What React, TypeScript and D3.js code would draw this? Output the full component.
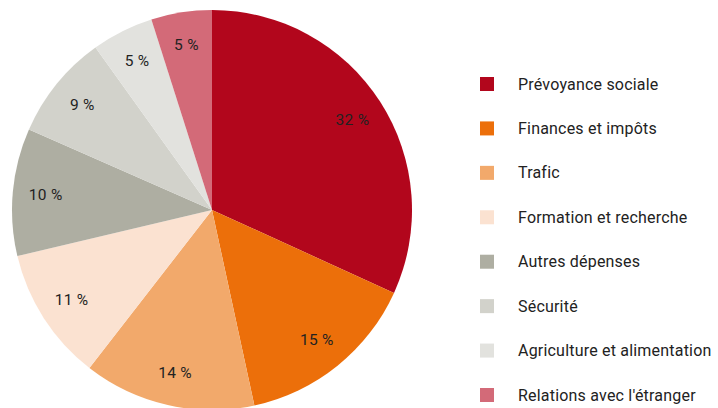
import React, { useEffect, useRef } from "react";
import * as d3 from "d3";

// Spending shares, clockwise from 12 o'clock
const categories = [
  "Prévoyance sociale",
  "Finances et impôts",
  "Trafic",
  "Formation et recherche",
  "Autres dépenses",
  "Sécurité",
  "Agriculture et alimentation",
  "Relations avec l'étranger",
];
const shares = [31.8, 14.8, 13.9, 10.8, 10.3, 8.5, 5.0, 4.9];
const shareLabels = ["32 %", "15 %", "14 %", "11 %", "10 %", "9 %", "5 %", "5 %"];
const colors = [
  "#b2061c",
  "#ec6f0a",
  "#f2a96b",
  "#fbe2d1",
  "#aeaea2",
  "#d2d2cb",
  "#e2e2de",
  "#d36a78",
];

const W = 718;
const H = 408;

export default function App() {
  const ref = useRef<SVGSVGElement>(null);

  useEffect(() => {
    const svg = d3.select(ref.current);
    svg.selectAll("*").remove();

    const cx = 212;
    const cy = 210;
    const r = 200;

    const pie = d3
      .pie<number>()
      .sort(null)
      .value((d) => d);
    const arcs = pie(shares);
    const arc = d3.arc<d3.PieArcDatum<number>>().innerRadius(0).outerRadius(r);
    const labelArc = d3
      .arc<d3.PieArcDatum<number>>()
      .innerRadius(167)
      .outerRadius(167);

    const g = svg.append("g").attr("transform", `translate(${cx},${cy})`);
    g.selectAll("path")
      .data(arcs)
      .join("path")
      .attr("d", arc)
      .attr("fill", (_, i) => colors[i]);

    g.selectAll("text")
      .data(arcs)
      .join("text")
      .attr("transform", (d) => `translate(${labelArc.centroid(d)})`)
      .attr("text-anchor", "middle")
      .attr("dominant-baseline", "central")
      .attr("font-size", 15.5)
      .attr("letter-spacing", 0.3)
      .attr("fill", "#222")
      .text((_, i) => shareLabels[i]);

    // legend
    const y = d3
      .scalePoint<string>()
      .domain(categories)
      .range([84, 395]);
    const leg = svg
      .append("g")
      .selectAll("g")
      .data(categories)
      .join("g")
      .attr("transform", (d) => `translate(480,${y(d)})`);
    leg
      .append("rect")
      .attr("x", 0)
      .attr("y", -7)
      .attr("width", 14)
      .attr("height", 14)
      .attr("fill", (_, i) => colors[i]);
    leg
      .append("text")
      .attr("x", 38)
      .attr("dominant-baseline", "central")
      .attr("font-size", 16)
      .attr("letter-spacing", 0.2)
      .attr("fill", "#222")
      .text((d) => d);
  }, []);

  return (
    <div style={{ position: "fixed", left: 0, top: 0 }}>
      <svg
        ref={ref}
        width={W}
        height={H}
        style={{ display: "block", fontFamily: "Roboto, 'DejaVu Sans', sans-serif", background: "#fff" }}
      />
    </div>
  );
}
